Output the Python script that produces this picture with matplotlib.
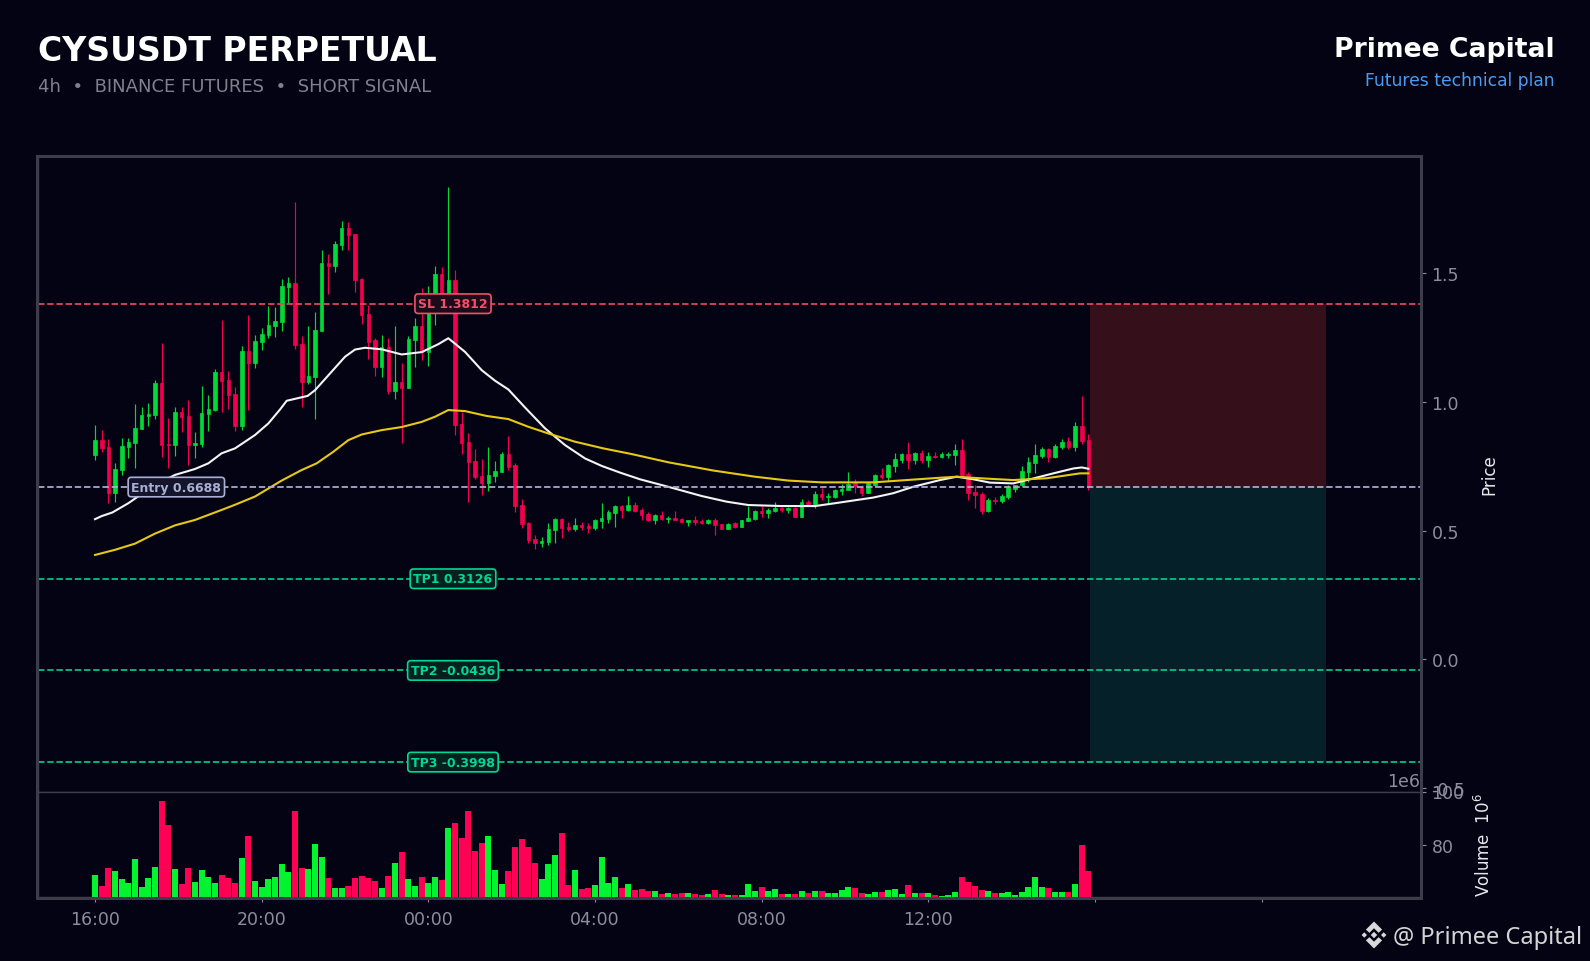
import matplotlib
matplotlib.use("Agg")
import matplotlib.pyplot as plt
from matplotlib.patches import Rectangle, Polygon

# ---------- data ----------
opens = [.793,.851,.824,.646,.735,.824,.840,.894,.945,.948,
         1.073,.836,.832,.960,.945,.832,.836,.952,.968,1.115,
         1.084,1.030,.906,1.197,1.150,1.232,1.259,1.294,1.309,1.445,
         1.460,1.224,1.077,1.096,1.274,1.538,1.526,1.608,1.674,1.651,
         1.476,1.340,1.239,1.135,1.212,1.042,1.077,1.053,1.239,1.294,
         1.193,1.375,1.495,1.388,1.472,.914,.844,.770,.712,.685,
         .712,.727,.797,.754,.599,.530,.467,.452,.456,.502,
         .545,.514,.506,.522,.518,.510,.537,.545,.568,.595,
         .580,.599,.580,.564,.541,.561,.546,.549,.544,.533,
         .541,.537,.529,.541,.526,.506,.528,.514,.537,.545,
         .576,.568,.576,.588,.580,.589,.553,.611,.603,.642,
         .630,.630,.654,.658,.686,.670,.647,.677,.716,.708,
         .751,.774,.797,.774,.801,.774,.789,.785,.793,.793,
         .813,.720,.650,.642,.576,.619,.615,.630,.661,.677,
         .727,.762,.789,.817,.785,.824,.848,.824,.906,.851]
highs = [.908,.889,.854,.761,.858,.858,.991,.978,.994,1.083,
         1.228,.939,.981,.978,1.007,.881,1.063,1.025,1.126,1.317,
         1.119,1.056,1.215,1.339,1.261,1.288,1.373,1.369,1.479,1.486,
         1.777,1.257,1.296,1.347,1.591,1.576,1.626,1.704,1.697,1.653,
         1.482,1.376,1.246,1.261,1.246,1.296,1.149,1.257,1.327,1.441,
         1.448,1.529,1.524,1.834,1.513,.959,.877,.816,.776,.823,
         .769,.805,.867,.761,.621,.533,.483,.473,.528,.548,
         .548,.533,.548,.533,.528,.545,.606,.580,.599,.598,
         .634,.610,.588,.570,.563,.575,.555,.575,.549,.541,
         .555,.546,.545,.548,.526,.528,.533,.541,.597,.580,
         .595,.586,.610,.593,.593,.593,.621,.619,.655,.665,
         .645,.660,.681,.729,.699,.677,.683,.718,.741,.757,
         .800,.800,.842,.806,.813,.806,.804,.804,.804,.836,
         .855,.729,.677,.648,.625,.632,.642,.677,.677,.751,
         .784,.836,.826,.819,.838,.854,.862,.920,1.022,.873]
lows = [.773,.806,.606,.612,.714,.783,.742,.894,.907,.932,
        .787,.742,.791,.884,.753,.783,.823,.888,.965,.961,
        .973,.888,.892,.969,1.132,1.202,1.248,1.252,1.276,1.382,
        1.206,.981,1.069,.932,1.274,1.419,1.506,1.590,1.590,1.427,
        1.303,1.167,1.101,1.097,1.031,1.009,.841,1.053,1.136,1.162,
        1.141,1.299,1.375,1.382,.871,.797,.611,.700,.636,.655,
        .690,.727,.736,.573,.508,.453,.430,.434,.442,.453,
        .471,.498,.498,.502,.492,.502,.508,.531,.515,.549,
        .577,.573,.541,.535,.527,.541,.531,.539,.532,.519,
        .523,.527,.526,.484,.506,.505,.511,.514,.535,.539,
        .554,.548,.572,.570,.567,.553,.553,.598,.589,.619,
        .608,.628,.636,.658,.645,.635,.647,.670,.700,.692,
        .729,.763,.740,.760,.761,.748,.783,.783,.783,.756,
        .709,.619,.589,.564,.573,.603,.608,.623,.651,.674,
        .689,.722,.780,.767,.780,.815,.818,.807,.835,.657]
closes = [.851,.820,.646,.739,.828,.844,.898,.948,.952,1.073,
          .832,.832,.960,.941,.832,.840,.956,.972,1.115,1.080,
          1.026,.906,1.197,1.150,1.236,1.263,1.298,1.313,1.449,1.460,
          1.220,1.077,1.100,1.278,1.538,1.526,1.612,1.674,1.647,1.472,
          1.336,1.234,1.135,1.212,1.042,1.077,1.053,1.243,1.294,1.193,
          1.375,1.495,1.388,1.472,.910,.840,.766,.708,.685,.716,
          .731,.797,.747,.595,.526,.464,.452,.460,.506,.545,
          .510,.506,.522,.514,.510,.541,.549,.572,.595,.580,
          .599,.576,.561,.541,.561,.545,.550,.541,.533,.541,
          .533,.529,.541,.523,.506,.526,.514,.541,.549,.576,
          .568,.580,.589,.580,.589,.553,.611,.603,.642,.630,
          .634,.658,.661,.680,.674,.647,.683,.716,.707,.754,
          .778,.797,.774,.801,.774,.789,.785,.797,.797,.813,
          .716,.646,.638,.576,.619,.615,.634,.669,.677,.731,
          .766,.793,.817,.785,.828,.844,.824,.906,.848,.670]
volumes = [68.4,64.3,71.1,70.0,67.0,65.5,74.5,64.0,67.3,71.5,
           96.6,87.2,70.7,65.1,71.1,65.8,70.3,67.7,65.5,68.4,
           67.3,65.5,74.8,83.1,66.2,64.0,67.0,67.7,72.6,69.6,
           92.5,71.1,70.7,80.1,75.2,67.3,63.6,63.6,64.3,67.3,
           68.1,67.3,66.2,63.6,68.1,73.0,77.1,67.0,64.3,67.7,
           65.5,67.7,66.6,86.1,88.0,82.3,92.5,77.5,80.4,83.4,
           70.3,65.1,70.0,78.9,81.9,78.9,73.0,67.0,72.6,76.0,
           84.2,64.7,70.3,63.2,63.6,64.7,75.2,65.5,67.7,63.6,
           65.1,62.8,63.2,62.5,62.5,61.3,61.7,61.3,61.7,61.7,
           61.3,60.9,61.3,62.8,61.3,60.9,60.9,60.9,65.1,62.5,
           64.0,62.5,63.2,61.3,61.3,61.3,62.5,61.7,62.5,62.5,
           61.7,61.7,62.8,64.0,63.6,61.7,61.3,62.1,62.1,62.8,
           63.2,61.3,64.7,61.7,61.7,61.7,60.9,60.6,60.9,62.1,
           67.7,65.8,64.3,62.8,62.5,61.7,61.7,62.1,60.9,62.1,
           64.0,67.7,64.0,63.6,62.1,62.1,62.1,65.1,79.7,69.9]

white_x = [0,1,2.6,5,7.5,10,12,15,17,19,21,24,26,27.75,28.75,31.9,33,35.25,37.5,39,40.5,43,46,49,51.5,53,
           55.5,58,60,62,64.5,67.5,70.5,73.5,76,78.75,81.75,86.25,91,94.75,98,103,108,111,116.75,119.75,
           122.75,126.75,129.25,131.75,134.25,137.75,140.25,143.75,146.75,148,149]
white_ma = [.544,.556,.570,.606,.651,.690,.716,.739,.761,.800,.819,.871,.916,.970,1.004,1.023,1.045,1.110,1.175,1.203,1.210,1.204,1.184,1.193,1.224,1.247,
            1.194,1.123,1.082,1.048,.978,.897,.832,.780,.751,.725,.699,.668,.634,.612,.599,.595,.595,.606,.628,.645,
            .670,.696,.709,.699,.686,.683,.699,.722,.741,.745,.740]
yellow_x = [0,3,6,9,12,15,19,21,24,28,31,33.25,35.75,38,40,43,46,49,51,53,55.5,58.75,62,65,68,72,76.25,80.5,86,92.75,99,104,109,
            116.75,121.75,126.75,129.25,132.75,137.75,142.75,147.75,149]
yellow_ma = [.405,.425,.449,.488,.520,.541,.580,.600,.632,.694,.735,.761,.806,.851,.873,.890,.902,.922,.942,.968,.964,.945,.933,.903,.877,.845,.819,.797,.765,.733,.709,.694,.687,
             .687,.696,.705,.709,.703,.696,.703,.722,.722]

ENTRY = 0.6688
SL = 1.3812
TP_LEVELS = [0.3126, -0.0436, -0.3998]
TP_NAMES = ["TP1 0.3126", "TP2 -0.0436", "TP3 -0.3998"]
TICK_POS = [0, 25, 50, 75, 100, 125, 150, 175]
TICK_LABELS = ["16:00", "20:00", "00:00", "04:00", "08:00", "12:00", "", ""]

# ---------- style ----------
BG = "#040313"
CANDLE_UP, CANDLE_DN = "#00d936", "#f2004e"
VOL_UP, VOL_DN = "#00f52e", "#ff0055"
FRAME = "#3b3e4a"
TICKC = "#8d8e9a"
C_SL, C_TP, C_ENTRY = "#e8455f", "#00c98d", "#aab0d4"
W, H = 1590, 962
TICK_FS = 12.5

fig = plt.figure(figsize=(W/100, H/100), dpi=100, facecolor=BG)
ax = fig.add_axes([38/W, 1-792.5/H, (1421-38)/W, (792.5-157)/H], facecolor=BG)
vx = fig.add_axes([38/W, 1-898/H, (1421-38)/W, (898-792.5)/H], facecolor=BG, sharex=ax)

XMIN, XMAX = -8.55, 198.9
x = list(range(len(closes)))

# ---------- price panel ----------
ax.add_patch(Rectangle((149.3, ENTRY), 35.3, SL-ENTRY, fc="#35101b", ec="none", zorder=1))
ax.add_patch(Rectangle((149.3, TP_LEVELS[-1]), 35.3, ENTRY-TP_LEVELS[-1], fc="#06202a", ec="none", zorder=1))

up = [c >= o for o, c in zip(opens, closes)]
ccol = [CANDLE_UP if u else CANDLE_DN for u in up]
ax.vlines(x, lows, highs, colors=ccol, lw=0.85, zorder=3)
ax.bar(x, [abs(c-o) for o, c in zip(opens, closes)],
       bottom=[min(o, c) for o, c in zip(opens, closes)],
       width=0.55, color=ccol, edgecolor=ccol, lw=0.5, zorder=4)

ax.plot(white_x, white_ma, color="#f4f4f4", lw=1.5, zorder=5)
ax.plot(yellow_x, yellow_ma, color="#e6c915", lw=1.5, zorder=5)

ax.axhline(SL, color=C_SL, ls="--", lw=1.25, zorder=6)
ax.axhline(ENTRY, color=C_ENTRY, ls="--", lw=1.25, zorder=6)
for lv in TP_LEVELS:
    ax.axhline(lv, color=C_TP, ls="--", lw=1.25, zorder=6)

def tag(xp, y, s, col, fc):
    ax.text(xp, y, s, color=col, fontsize=9, fontweight="bold", ha="center", va="center", zorder=8,
            bbox=dict(boxstyle="round,pad=0.26", fc=fc, ec=col, lw=1.2))

tag(53.7, SL, "SL 1.3812", "#f2506a", "#1d0a1a")
tag(12.2, ENTRY, "Entry 0.6688", C_ENTRY, "#14142a")
for lv, nm in zip(TP_LEVELS, TP_NAMES):
    tag(53.7, lv, nm, "#00d795", "#04201f")

ax.set_xlim(XMIN, XMAX)
ax.set_ylim(-0.514, 1.955)
ax.yaxis.tick_right()
ax.yaxis.set_label_position("right")
ax.set_yticks([-0.5, 0, 0.5, 1.0, 1.5])
ax.set_yticklabels(["-0.5", "0.0", "0.5", "1.0", "1.5"])
ax.tick_params(axis="y", colors=TICKC, labelsize=TICK_FS, length=3.5, width=0.8, pad=4)
ax.tick_params(axis="x", bottom=False, labelbottom=False)
ax.set_ylabel("Price", color="#e8e8ec", fontsize=12, labelpad=0)
ax.yaxis.set_label_coords(1.0427, 0.5)

# ---------- volume panel ----------
vcol = [VOL_UP if u else VOL_DN for u in up]
vx.bar(x, volumes, width=0.9, color=vcol, zorder=3)
vx.set_ylim(60.2, 100.0)
vx.yaxis.tick_right()
vx.yaxis.set_label_position("right")
vx.set_yticks([80, 100])
vx.set_yticklabels(["80", "100"])
vx.tick_params(axis="y", colors=TICKC, labelsize=TICK_FS, length=3.5, width=0.8, pad=4)
vx.set_xticks(TICK_POS)
vx.set_xticklabels(TICK_LABELS)
vx.tick_params(axis="x", colors=TICKC, labelsize=TICK_FS, length=3.5, width=0.8, pad=6)
vx.set_ylabel("Volume  $10^{6}$", color="#e8e8ec", fontsize=12)
vx.yaxis.set_label_coords(1.0382, 0.5)
vx.set_xlim(XMIN, XMAX)

for a in (ax, vx):
    for sp in a.spines.values():
        sp.set_color(FRAME)
        sp.set_linewidth(1.0)

# ---------- overlay ----------
ov = fig.add_axes([0, 0, 1, 1], zorder=20)
ov.set_xlim(0, W)
ov.set_ylim(H, 0)
ov.axis("off")
ov.add_patch(Rectangle((37, 156.5), 1384.3, 742.5, fc="none", ec=FRAME, lw=2.2))
ov.text(1420, 782.5, "1e6", color=TICKC, fontsize=TICK_FS, ha="right", va="center")

ov.text(38, 61, "CYSUSDT PERPETUAL", color="white", fontsize=23.9, fontweight="bold", ha="left", va="baseline")
ov.text(38, 92, "4h  \u2022  BINANCE FUTURES  \u2022  SHORT SIGNAL", color="#7f818d", fontsize=13, ha="left", va="baseline")
ov.text(1555, 57, "Primee Capital", color="white", fontsize=19.2, fontweight="bold", ha="right", va="baseline")
ov.text(1555, 86, "Futures technical plan", color="#4a9cf0", fontsize=12.3, ha="right", va="baseline")

# watermark logo
LOGO = "#d9d9d9"
cx, cy, R = 1374, 936, 13.5
def rel(pts):
    return [(cx + px*R, cy + py*R) for px, py in pts]
shapes = [
    [(0, -.24), (.24, 0), (0, .24), (-.24, 0)],
    [(-.72, -.2), (-.52, 0), (-.72, .2), (-.92, 0)],
    [(.72, -.2), (.92, 0), (.72, .2), (.52, 0)],
    [(0, -1), (.6, -.4), (.34, -.16), (0, -.5), (-.34, -.16), (-.6, -.4)],
    [(0, 1), (.6, .4), (.34, .16), (0, .5), (-.34, .16), (-.6, .4)],
]
for s in shapes:
    ov.add_patch(Polygon(rel(s), closed=True, fc=LOGO, ec="none"))
ov.text(1393, 944, "@ Primee Capital", color="#d4d4d6", fontsize=17, family="Noto Sans", ha="left", va="baseline")

fig.savefig("out.png", dpi=100, facecolor=BG)
